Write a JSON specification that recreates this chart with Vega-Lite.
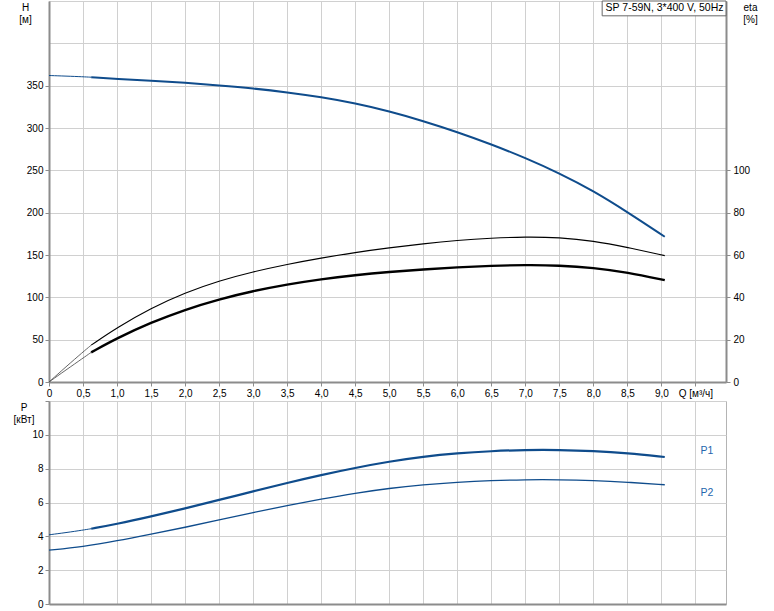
{
  "$schema": "https://vega.github.io/schema/vega-lite/v6.json",
  "background": "white",
  "padding": {"left": 12, "top": 0, "right": 0, "bottom": 0},
  "bounds": "flush",
  "spacing": 19,
  "config": {
    "font": "Liberation Sans",
    "view": {"stroke": "#b4b4b4", "strokeWidth": 1},
    "axis": {
      "labelFont": "Liberation Sans", "labelFontSize": 10, "labelColor": "#000000",
      "gridColor": "#d0d0d0", "gridWidth": 1,
      "domainColor": "#8c8c8c", "domainWidth": 2,
      "tickColor": "#8c8c8c", "tickSize": 4, "labelPadding": 2,
      "titleFont": "Liberation Sans", "titleFontSize": 10, "titleFontWeight": "normal", "titleColor": "#000000"
    }
  },
  "datasets": {
    "curves": [
      {"curve": "H", "seg": "thin", "Q": 0, "v": 362},
      {"curve": "H", "seg": "thin", "Q": 0.25, "v": 361.3},
      {"curve": "H", "seg": "thin", "Q": 0.5, "v": 360.5},
      {"curve": "H", "seg": "thin", "Q": 0.62, "v": 360},
      {"curve": "H", "seg": "thick", "Q": 0.62, "v": 360},
      {"curve": "H", "seg": "thick", "Q": 1.0, "v": 358},
      {"curve": "H", "seg": "thick", "Q": 1.5, "v": 356},
      {"curve": "H", "seg": "thick", "Q": 2.0, "v": 353.5},
      {"curve": "H", "seg": "thick", "Q": 2.5, "v": 350.3},
      {"curve": "H", "seg": "thick", "Q": 3.0, "v": 346.8},
      {"curve": "H", "seg": "thick", "Q": 3.5, "v": 342.2},
      {"curve": "H", "seg": "thick", "Q": 4.0, "v": 336.5},
      {"curve": "H", "seg": "thick", "Q": 4.5, "v": 329.2},
      {"curve": "H", "seg": "thick", "Q": 5.0, "v": 319.8},
      {"curve": "H", "seg": "thick", "Q": 5.5, "v": 308.3},
      {"curve": "H", "seg": "thick", "Q": 6.0, "v": 295.3},
      {"curve": "H", "seg": "thick", "Q": 6.5, "v": 280.8},
      {"curve": "H", "seg": "thick", "Q": 7.0, "v": 264.7},
      {"curve": "H", "seg": "thick", "Q": 7.5, "v": 246.6},
      {"curve": "H", "seg": "thick", "Q": 8.0, "v": 225.8},
      {"curve": "H", "seg": "thick", "Q": 8.5, "v": 200.8},
      {"curve": "H", "seg": "thick", "Q": 9.05, "v": 171.6},

      {"curve": "eta1", "seg": "thin", "Q": 0, "v": 0},
      {"curve": "eta1", "seg": "thin", "Q": 0.25, "v": 7.2},
      {"curve": "eta1", "seg": "thin", "Q": 0.5, "v": 14.2},
      {"curve": "eta1", "seg": "thin", "Q": 0.62, "v": 17.4},
      {"curve": "eta1", "seg": "thick", "Q": 0.62, "v": 17.4},
      {"curve": "eta1", "seg": "thick", "Q": 1.0, "v": 25.7},
      {"curve": "eta1", "seg": "thick", "Q": 1.5, "v": 34.9},
      {"curve": "eta1", "seg": "thick", "Q": 2.0, "v": 42.2},
      {"curve": "eta1", "seg": "thick", "Q": 2.5, "v": 47.8},
      {"curve": "eta1", "seg": "thick", "Q": 3.0, "v": 52.1},
      {"curve": "eta1", "seg": "thick", "Q": 3.5, "v": 55.6},
      {"curve": "eta1", "seg": "thick", "Q": 4.0, "v": 58.6},
      {"curve": "eta1", "seg": "thick", "Q": 4.5, "v": 61.2},
      {"curve": "eta1", "seg": "thick", "Q": 5.0, "v": 63.4},
      {"curve": "eta1", "seg": "thick", "Q": 5.5, "v": 65.3},
      {"curve": "eta1", "seg": "thick", "Q": 6.0, "v": 66.9},
      {"curve": "eta1", "seg": "thick", "Q": 6.5, "v": 68.0},
      {"curve": "eta1", "seg": "thick", "Q": 7.0, "v": 68.6},
      {"curve": "eta1", "seg": "thick", "Q": 7.5, "v": 68.3},
      {"curve": "eta1", "seg": "thick", "Q": 8.0, "v": 66.7},
      {"curve": "eta1", "seg": "thick", "Q": 8.5, "v": 63.6},
      {"curve": "eta1", "seg": "thick", "Q": 9.05, "v": 59.7},

      {"curve": "eta2", "seg": "thin", "Q": 0, "v": 0},
      {"curve": "eta2", "seg": "thin", "Q": 0.25, "v": 5.7},
      {"curve": "eta2", "seg": "thin", "Q": 0.5, "v": 11.3},
      {"curve": "eta2", "seg": "thin", "Q": 0.62, "v": 14.0},
      {"curve": "eta2", "seg": "thick", "Q": 0.62, "v": 14.0},
      {"curve": "eta2", "seg": "thick", "Q": 1.0, "v": 20.7},
      {"curve": "eta2", "seg": "thick", "Q": 1.5, "v": 28.1},
      {"curve": "eta2", "seg": "thick", "Q": 2.0, "v": 34.2},
      {"curve": "eta2", "seg": "thick", "Q": 2.5, "v": 39.1},
      {"curve": "eta2", "seg": "thick", "Q": 3.0, "v": 43.0},
      {"curve": "eta2", "seg": "thick", "Q": 3.5, "v": 46.1},
      {"curve": "eta2", "seg": "thick", "Q": 4.0, "v": 48.6},
      {"curve": "eta2", "seg": "thick", "Q": 4.5, "v": 50.5},
      {"curve": "eta2", "seg": "thick", "Q": 5.0, "v": 52.0},
      {"curve": "eta2", "seg": "thick", "Q": 5.5, "v": 53.2},
      {"curve": "eta2", "seg": "thick", "Q": 6.0, "v": 54.2},
      {"curve": "eta2", "seg": "thick", "Q": 6.5, "v": 54.9},
      {"curve": "eta2", "seg": "thick", "Q": 7.0, "v": 55.3},
      {"curve": "eta2", "seg": "thick", "Q": 7.5, "v": 55.1},
      {"curve": "eta2", "seg": "thick", "Q": 8.0, "v": 54.0},
      {"curve": "eta2", "seg": "thick", "Q": 8.5, "v": 51.8},
      {"curve": "eta2", "seg": "thick", "Q": 9.05, "v": 48.1},

      {"curve": "P1", "seg": "thin", "Q": 0, "v": 4.09},
      {"curve": "P1", "seg": "thin", "Q": 0.25, "v": 4.22},
      {"curve": "P1", "seg": "thin", "Q": 0.5, "v": 4.37},
      {"curve": "P1", "seg": "thin", "Q": 0.62, "v": 4.45},
      {"curve": "P1", "seg": "thick", "Q": 0.62, "v": 4.45},
      {"curve": "P1", "seg": "thick", "Q": 1.0, "v": 4.73},
      {"curve": "P1", "seg": "thick", "Q": 1.5, "v": 5.18},
      {"curve": "P1", "seg": "thick", "Q": 2.0, "v": 5.65},
      {"curve": "P1", "seg": "thick", "Q": 2.5, "v": 6.15},
      {"curve": "P1", "seg": "thick", "Q": 3.0, "v": 6.66},
      {"curve": "P1", "seg": "thick", "Q": 3.5, "v": 7.16},
      {"curve": "P1", "seg": "thick", "Q": 4.0, "v": 7.63},
      {"curve": "P1", "seg": "thick", "Q": 4.5, "v": 8.05},
      {"curve": "P1", "seg": "thick", "Q": 5.0, "v": 8.42},
      {"curve": "P1", "seg": "thick", "Q": 5.5, "v": 8.71},
      {"curve": "P1", "seg": "thick", "Q": 6.0, "v": 8.91},
      {"curve": "P1", "seg": "thick", "Q": 6.5, "v": 9.04},
      {"curve": "P1", "seg": "thick", "Q": 7.0, "v": 9.11},
      {"curve": "P1", "seg": "thick", "Q": 7.5, "v": 9.11},
      {"curve": "P1", "seg": "thick", "Q": 8.0, "v": 9.05},
      {"curve": "P1", "seg": "thick", "Q": 8.5, "v": 8.92},
      {"curve": "P1", "seg": "thick", "Q": 9.05, "v": 8.69},

      {"curve": "P2", "seg": "mid", "Q": 0, "v": 3.18},
      {"curve": "P2", "seg": "mid", "Q": 0.5, "v": 3.39},
      {"curve": "P2", "seg": "mid", "Q": 1.0, "v": 3.73},
      {"curve": "P2", "seg": "mid", "Q": 1.5, "v": 4.13},
      {"curve": "P2", "seg": "mid", "Q": 2.0, "v": 4.53},
      {"curve": "P2", "seg": "mid", "Q": 2.5, "v": 4.97},
      {"curve": "P2", "seg": "mid", "Q": 3.0, "v": 5.41},
      {"curve": "P2", "seg": "mid", "Q": 3.5, "v": 5.82},
      {"curve": "P2", "seg": "mid", "Q": 4.0, "v": 6.2},
      {"curve": "P2", "seg": "mid", "Q": 4.5, "v": 6.55},
      {"curve": "P2", "seg": "mid", "Q": 5.0, "v": 6.84},
      {"curve": "P2", "seg": "mid", "Q": 5.5, "v": 7.05},
      {"curve": "P2", "seg": "mid", "Q": 6.0, "v": 7.2},
      {"curve": "P2", "seg": "mid", "Q": 6.5, "v": 7.3},
      {"curve": "P2", "seg": "mid", "Q": 7.0, "v": 7.35},
      {"curve": "P2", "seg": "mid", "Q": 7.5, "v": 7.35},
      {"curve": "P2", "seg": "mid", "Q": 8.0, "v": 7.3},
      {"curve": "P2", "seg": "mid", "Q": 8.5, "v": 7.2},
      {"curve": "P2", "seg": "mid", "Q": 9.05, "v": 7.05}
    ],
    "notes": [
      {"label": "SP 7-59N, 3*400 V, 50Hz"},
      {"label": "P1"},
      {"label": "P2"}
    ]
  },
  "vconcat": [
    {
      "width": 677,
      "height": 381,
      "layer": [
        {
          "data": {"name": "curves"},
          "encoding": {
            "x": {
              "field": "Q", "type": "quantitative",
              "scale": {"domain": [0, 9.95], "nice": false, "zero": false},
              "axis": {
                "title": null,
                "values": [0, 0.5, 1, 1.5, 2, 2.5, 3, 3.5, 4, 4.5, 5, 5.5, 6, 6.5, 7, 7.5, 8, 8.5, 9, 9.5],
                "labelExpr": "datum.value == 9.5 ? 'Q [м³/ч]' : (datum.value == 0 ? '0' : replace(format(datum.value, '.1f'), '.', ','))",
                "labelFlush": false, "labelOverlap": false, "grid": true
              }
            },
            "y": {
              "field": "v", "type": "quantitative",
              "scale": {"domain": [0, 450], "nice": false},
              "axis": {
                "orient": "left",
                "values": [0, 50, 100, 150, 200, 250, 300, 350, 400, 450],
                "labelExpr": "datum.value > 350 ? '' : datum.label",
                "tickOpacity": {"condition": {"test": "datum.value > 350", "value": 0}, "value": 1},
                "title": ["H", "[м]"],
                "titleAngle": 0, "titleAlign": "center", "titleBaseline": "top",
                "titleX": -24, "titleY": 1, "titleLineHeight": 12,
                "grid": true
              }
            }
          },
          "layer": [
            {
              "transform": [{"filter": "datum.curve == 'H' && datum.seg == 'thin'"}],
              "mark": {"type": "line", "color": "#0f4c8c", "strokeWidth": 1, "interpolate": "basis"}
            },
            {
              "transform": [{"filter": "datum.curve == 'H' && datum.seg == 'thick'"}],
              "mark": {"type": "line", "color": "#0f4c8c", "strokeWidth": 2, "interpolate": "basis"}
            }
          ]
        },
        {
          "data": {"name": "curves"},
          "encoding": {
            "x": {
              "field": "Q", "type": "quantitative",
              "axis": {
                "title": null,
                "values": [0, 0.5, 1, 1.5, 2, 2.5, 3, 3.5, 4, 4.5, 5, 5.5, 6, 6.5, 7, 7.5, 8, 8.5, 9, 9.5],
                "labelExpr": "datum.value == 9.5 ? 'Q [м³/ч]' : (datum.value == 0 ? '0' : replace(format(datum.value, '.1f'), '.', ','))",
                "labelFlush": false, "labelOverlap": false, "grid": true
              }
            },
            "y": {
              "field": "v", "type": "quantitative",
              "scale": {"domain": [0, 180], "nice": false},
              "axis": {
                "orient": "right",
                "values": [0, 20, 40, 60, 80, 100],
                "grid": false,
                "labelPadding": 3,
                "title": ["eta", "[%]"],
                "titleAngle": 0, "titleAlign": "center", "titleBaseline": "top",
                "titleX": 24, "titleY": 1, "titleLineHeight": 12
              }
            }
          },
          "layer": [
            {
              "transform": [{"filter": "datum.curve == 'eta1' && datum.seg == 'thin'"}],
              "mark": {"type": "line", "color": "#555555", "strokeWidth": 0.9, "interpolate": "basis"}
            },
            {
              "transform": [{"filter": "datum.curve == 'eta1' && datum.seg == 'thick'"}],
              "mark": {"type": "line", "color": "#000000", "strokeWidth": 1.1, "interpolate": "basis"}
            },
            {
              "transform": [{"filter": "datum.curve == 'eta2' && datum.seg == 'thin'"}],
              "mark": {"type": "line", "color": "#555555", "strokeWidth": 0.9, "interpolate": "basis"}
            },
            {
              "transform": [{"filter": "datum.curve == 'eta2' && datum.seg == 'thick'"}],
              "mark": {"type": "line", "color": "#000000", "strokeWidth": 2.4, "interpolate": "basis"}
            }
          ]
        },
        {
          "data": {"name": "notes"},
          "transform": [{"filter": "datum.label != 'P1' && datum.label != 'P2'"}],
          "layer": [
            {
              "mark": {"type": "rect", "fill": "white", "stroke": "#666666", "strokeWidth": 1},
              "encoding": {
                "x": {
                  "datum": 8.13, "type": "quantitative",
                  "axis": {
                    "title": null,
                    "values": [0, 0.5, 1, 1.5, 2, 2.5, 3, 3.5, 4, 4.5, 5, 5.5, 6, 6.5, 7, 7.5, 8, 8.5, 9, 9.5],
                    "labelExpr": "datum.value == 9.5 ? 'Q [м³/ч]' : (datum.value == 0 ? '0' : replace(format(datum.value, '.1f'), '.', ','))",
                    "labelFlush": false, "labelOverlap": false, "grid": true
                  }
                },
                "x2": {"datum": 9.95},
                "y": {"datum": 450, "type": "quantitative", "scale": {"domain": [0, 450], "nice": false}, "axis": null},
                "y2": {"datum": 432.5}
              }
            },
            {
              "mark": {"type": "text", "align": "left", "baseline": "middle", "fontSize": 10.5, "font": "Liberation Sans", "color": "#000000"},
              "encoding": {
                "text": {"field": "label", "type": "nominal"},
                "x": {
                  "datum": 8.18, "type": "quantitative",
                  "axis": {
                    "title": null,
                    "values": [0, 0.5, 1, 1.5, 2, 2.5, 3, 3.5, 4, 4.5, 5, 5.5, 6, 6.5, 7, 7.5, 8, 8.5, 9, 9.5],
                    "labelExpr": "datum.value == 9.5 ? 'Q [м³/ч]' : (datum.value == 0 ? '0' : replace(format(datum.value, '.1f'), '.', ','))",
                    "labelFlush": false, "labelOverlap": false, "grid": true
                  }
                },
                "y": {"datum": 441.5, "type": "quantitative", "scale": {"domain": [0, 450], "nice": false}, "axis": null}
              }
            }
          ]
        }
      ],
      "resolve": {"scale": {"y": "independent"}, "axis": {"y": "independent"}}
    },
    {
      "width": 677,
      "height": 203,
      "layer": [
        {
          "data": {"name": "curves"},
          "transform": [{"filter": "datum.curve == 'P1' || datum.curve == 'P2'"}],
          "encoding": {
            "x": {
              "field": "Q", "type": "quantitative",
              "scale": {"domain": [0, 9.95], "nice": false, "zero": false},
              "axis": {
                "title": null,
                "values": [0, 0.5, 1, 1.5, 2, 2.5, 3, 3.5, 4, 4.5, 5, 5.5, 6, 6.5, 7, 7.5, 8, 8.5, 9, 9.5],
                "labels": false, "ticks": false, "grid": true
              }
            },
            "y": {
              "field": "v", "type": "quantitative",
              "scale": {"domain": [0, 12], "nice": false},
              "axis": {
                "orient": "left",
                "values": [0, 2, 4, 6, 8, 10, 12],
                "labelExpr": "datum.value > 10 ? '' : datum.label",
                "title": ["P", "[кВт]"],
                "titleAngle": 0, "titleAlign": "center", "titleBaseline": "top",
                "titleX": -25.5, "titleY": 1, "titleLineHeight": 12,
                "grid": true
              }
            }
          },
          "layer": [
            {
              "transform": [{"filter": "datum.curve == 'P1' && datum.seg == 'thin'"}],
              "mark": {"type": "line", "color": "#0f4c8c", "strokeWidth": 1, "interpolate": "basis"}
            },
            {
              "transform": [{"filter": "datum.curve == 'P1' && datum.seg == 'thick'"}],
              "mark": {"type": "line", "color": "#0f4c8c", "strokeWidth": 2.2, "interpolate": "basis"}
            },
            {
              "transform": [{"filter": "datum.curve == 'P2'"}],
              "mark": {"type": "line", "color": "#0f4c8c", "strokeWidth": 1.3, "interpolate": "basis"}
            }
          ]
        },
        {
          "data": {"name": "notes"},
          "transform": [{"filter": "datum.label == 'P1'"}],
          "mark": {"type": "text", "align": "center", "baseline": "middle", "fontSize": 10.5, "font": "Liberation Sans", "color": "#2566ad"},
          "encoding": {
            "text": {"field": "label", "type": "nominal"},
            "x": {
              "datum": 9.67, "type": "quantitative",
              "axis": {
                "title": null,
                "values": [0, 0.5, 1, 1.5, 2, 2.5, 3, 3.5, 4, 4.5, 5, 5.5, 6, 6.5, 7, 7.5, 8, 8.5, 9, 9.5],
                "labels": false, "ticks": false, "grid": true
              }
            },
            "y": {
              "datum": 9.03, "type": "quantitative",
              "axis": {
                "orient": "left",
                "values": [0, 2, 4, 6, 8, 10, 12],
                "labelExpr": "datum.value > 10 ? '' : datum.label",
                "title": ["P", "[кВт]"],
                "titleAngle": 0, "titleAlign": "center", "titleBaseline": "top",
                "titleX": -25.5, "titleY": 1, "titleLineHeight": 12,
                "grid": true
              }
            }
          }
        },
        {
          "data": {"name": "notes"},
          "transform": [{"filter": "datum.label == 'P2'"}],
          "mark": {"type": "text", "align": "center", "baseline": "middle", "fontSize": 10.5, "font": "Liberation Sans", "color": "#2566ad"},
          "encoding": {
            "text": {"field": "label", "type": "nominal"},
            "x": {
              "datum": 9.67, "type": "quantitative",
              "axis": {
                "title": null,
                "values": [0, 0.5, 1, 1.5, 2, 2.5, 3, 3.5, 4, 4.5, 5, 5.5, 6, 6.5, 7, 7.5, 8, 8.5, 9, 9.5],
                "labels": false, "ticks": false, "grid": true
              }
            },
            "y": {
              "datum": 6.59, "type": "quantitative",
              "axis": {
                "orient": "left",
                "values": [0, 2, 4, 6, 8, 10, 12],
                "labelExpr": "datum.value > 10 ? '' : datum.label",
                "title": ["P", "[кВт]"],
                "titleAngle": 0, "titleAlign": "center", "titleBaseline": "top",
                "titleX": -25.5, "titleY": 1, "titleLineHeight": 12,
                "grid": true
              }
            }
          }
        }
      ]
    }
  ]
}
